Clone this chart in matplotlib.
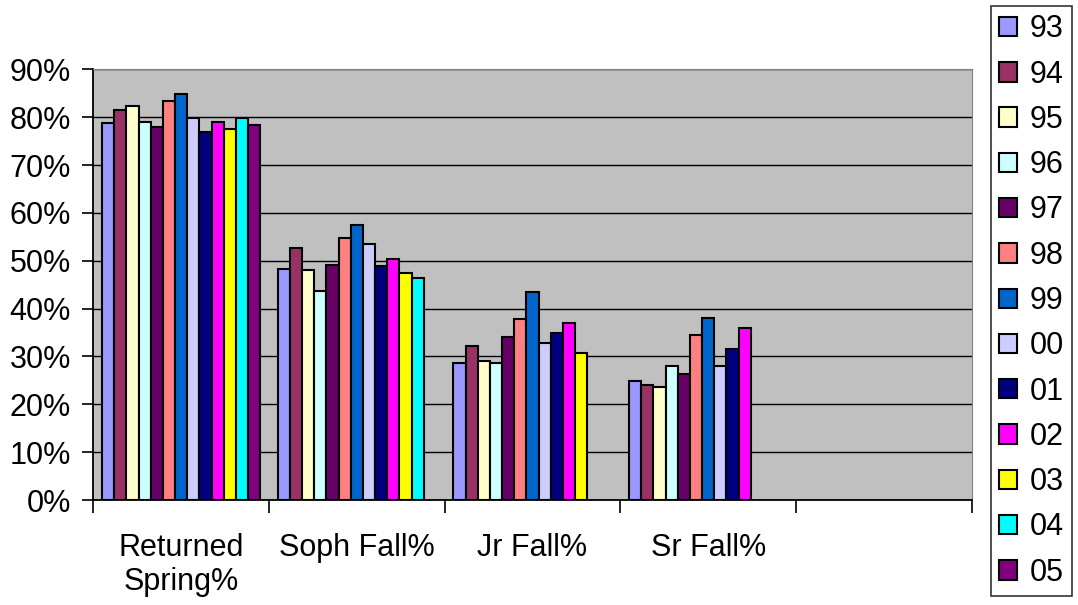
import numpy as np
import matplotlib
matplotlib.use("Agg")
import matplotlib.pyplot as plt
from matplotlib.ticker import FixedLocator, PercentFormatter

# ---- data ----
categories = ["Returned\nSpring%", "Soph Fall%", "Jr Fall%", "Sr Fall%", ""]
years = ["93", "94", "95", "96", "97", "98", "99", "00", "01", "02", "03", "04", "05"]

returned_spring = [78.7, 81.4, 82.4, 78.9, 77.9, 83.3, 84.9, 79.9, 76.9, 79.0, 77.6, 79.8, 78.4]
soph_fall = [48.2, 52.6, 48.0, 43.6, 49.1, 54.7, 57.4, 53.5, 48.8, 50.3, 47.5, 46.4, None]
jr_fall = [28.6, 32.2, 29.0, 28.7, 34.0, 37.9, 43.4, 32.9, 34.9, 37.0, 30.8, None, None]
sr_fall = [24.9, 24.0, 23.6, 27.9, 26.4, 34.5, 38.1, 28.1, 31.5, 35.9, None, None, None]

colors = ["#9999FF", "#993366", "#FFFFCC", "#CCFFFF", "#660066", "#FF8080", "#0066CC",
          "#CCCCFF", "#000080", "#FF00FF", "#FFFF00", "#00FFFF", "#800080"]

plt.rcParams["font.family"] = ["Liberation Sans", "DejaVu Sans"]
FS = 22

fig = plt.figure(figsize=(10.78, 6.05), dpi=100)
ax = fig.add_axes([93.3 / 1078, 1 - 500 / 605, (971.7 - 93.3) / 1078, (500 - 69.3) / 605])
ax.set_facecolor("#C0C0C0")

series = [returned_spring, soph_fall, jr_fall, sr_fall]
n = len(years)
group_w = 0.9
w = group_w / n
x = np.arange(len(categories))
for i, yr in enumerate(years):
    xs, vs = [], []
    for c, s in enumerate(series):
        if s[i] is not None:
            xs.append(x[c] - group_w / 2 + w * (i + 0.5))
            vs.append(s[i])
    ax.bar(xs, vs, width=w, color=colors[i], edgecolor="black", linewidth=1.5,
           label=yr, zorder=3)

ax.set_xlim(-0.5, len(categories) - 0.5)
ax.set_ylim(0, 90)
ax.yaxis.set_major_locator(FixedLocator(np.arange(0, 91, 10)))
ax.yaxis.set_major_formatter(PercentFormatter(decimals=0))
ax.grid(axis="y", color="black", linewidth=1.0, zorder=1)

ax.set_xticks(x)
ax.set_xticklabels(categories, fontsize=FS, linespacing=1.15)
ax.tick_params(axis="x", which="major", length=0, pad=24)
ax.set_xticks(np.arange(-0.5, len(categories)), minor=True)
ax.tick_params(axis="x", which="minor", length=9, width=1.2, direction="out")
ax.tick_params(axis="y", length=8, width=1.2, labelsize=FS, pad=8)

for side in ["top", "right"]:
    ax.spines[side].set_color("#808080")
for side in ["left", "bottom"]:
    ax.spines[side].set_linewidth(1.3)

leg = fig.legend(loc="center", bbox_to_anchor=(1031.5 / 1078, 1 - 301 / 605),
                 fontsize=FS, frameon=True, fancybox=False, edgecolor="black",
                 handlelength=0.6, handleheight=0.6, handletextpad=0.4,
                 labelspacing=0.5, borderpad=0.28, borderaxespad=0)
leg.get_frame().set_linewidth(1.2)

fig.savefig("out.png", dpi=100)
